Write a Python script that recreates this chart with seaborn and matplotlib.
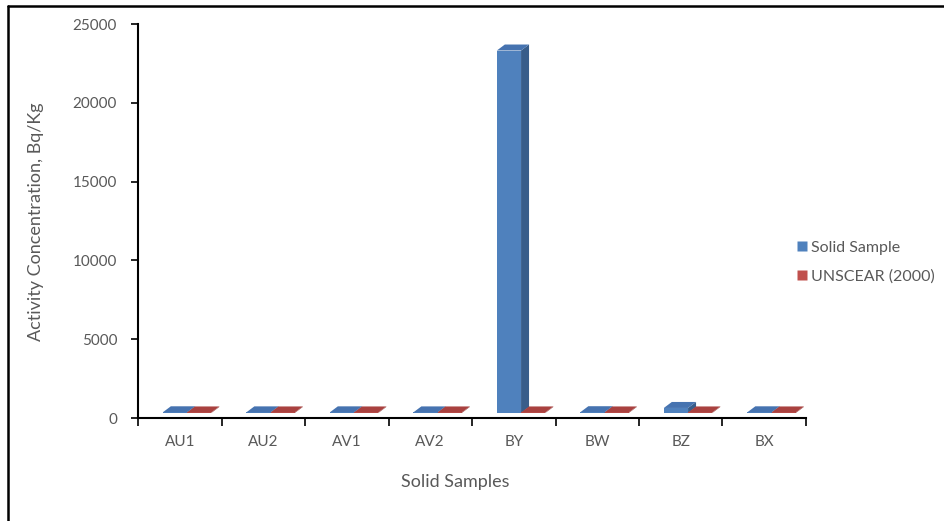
import matplotlib
matplotlib.use("Agg")
import matplotlib.pyplot as plt
import seaborn as sns
import pandas as pd
from matplotlib.patches import Polygon
from matplotlib.lines import Line2D
from matplotlib.transforms import ScaledTranslation

# Activity concentration per solid sample, Bq/Kg
samples = ["AU1", "AU2", "AV1", "AV2", "BY", "BW", "BZ", "BX"]
solid_sample = [45, 40, 42, 38, 23000, 50, 320, 44]
unscear_2000 = [35, 35, 35, 35, 35, 35, 35, 35]
series_names = ["Solid Sample", "UNSCEAR (2000)"]
y_ticks = [0, 5000, 10000, 15000, 20000, 25000]

front_colors = {"Solid Sample": "#4F81BD", "UNSCEAR (2000)": "#C0504D"}
side_colors = {"Solid Sample": "#385D8A", "UNSCEAR (2000)": "#8C3836"}
top_colors = {"Solid Sample": "#4673B0", "UNSCEAR (2000)": "#A9413F"}

df = pd.DataFrame({
    "Sample": samples * 2,
    "Value": solid_sample + unscear_2000,
    "Series": [series_names[0]] * len(samples) + [series_names[1]] * len(samples),
})

sns.set_style("white")
plt.rcParams["font.family"] = ["Lato", "DejaVu Sans"]

W, H = 945, 521
fig = plt.figure(figsize=(W / 100, H / 100), dpi=100)
ax = fig.add_axes([138 / W, (H - 418) / H, (806 - 138) / W, (418 - 24) / H])

sns.barplot(data=df, x="Sample", y="Value", hue="Series", order=samples,
            hue_order=series_names, palette=front_colors, saturation=1,
            width=0.58, dodge=True, legend=False, ax=ax, linewidth=0,
            errorbar=None)

ax.set_xlim(-0.5, len(samples) - 0.5)
ax.set_ylim(0, 25000)

# Fake 3-D look: shift front faces and add side/top faces (offsets in pixels)
shift_x, shift_y = 7.3, 5.0
depth_x, depth_y = 8.0, 6.0
to_disp = ax.transData
to_data = ax.transData.inverted()


def moved(x, y, dxp, dyp):
    px, py = to_disp.transform((x, y))
    return tuple(to_data.transform((px + dxp, py + dyp)))


bars = list(ax.patches)
n = len(samples)
for i, bar in enumerate(bars):
    series = series_names[i // n]
    z = 2 + i // n
    x0, w = bar.get_x(), bar.get_width()
    y0, h = bar.get_y(), bar.get_height()
    bar.set_transform(ax.transData + ScaledTranslation(shift_x / 100, shift_y / 100,
                                                      fig.dpi_scale_trans))
    bar.set_zorder(z)
    bar.set_clip_on(False)
    fr = moved(x0 + w, y0, shift_x, shift_y)
    tl = moved(x0, y0 + h, shift_x, shift_y)
    tr = moved(x0 + w, y0 + h, shift_x, shift_y)
    btl = moved(x0, y0 + h, shift_x + depth_x, shift_y + depth_y)
    btr = moved(x0 + w, y0 + h, shift_x + depth_x, shift_y + depth_y)
    bbr = moved(x0 + w, y0, shift_x + depth_x, shift_y + depth_y)
    ax.add_patch(Polygon([fr, tr, btr, bbr], closed=True, facecolor=side_colors[series],
                         edgecolor="none", zorder=z, clip_on=False))
    ax.add_patch(Polygon([tl, tr, btr, btl], closed=True, facecolor=top_colors[series],
                         edgecolor="none", zorder=z, clip_on=False))

# Axes styling
for side in ["top", "right"]:
    ax.spines[side].set_visible(False)
for side in ["left", "bottom"]:
    ax.spines[side].set_color("black")
    ax.spines[side].set_linewidth(1.5)

ax.set_yticks(y_ticks)
ax.set_yticklabels([str(t) for t in y_ticks])
ax.tick_params(axis="y", direction="out", length=5, width=1.2, color="black",
               labelsize=11, labelcolor="#595959", pad=10, left=True)

boundaries = [i - 0.5 for i in range(len(samples) + 1)]
ax.set_xticks(boundaries)
ax.set_xticklabels([])
ax.set_xticks(range(len(samples)), minor=True)
ax.set_xticklabels(samples, minor=True)
ax.tick_params(axis="x", which="major", direction="out", length=6, width=1.2,
               color="black", bottom=True)
ax.tick_params(axis="x", which="minor", length=0, labelsize=11,
               labelcolor="#595959", pad=12)
ax.set_xlabel("")
ax.set_ylabel("")

fig.text(455 / W, 1 - 482 / H, "Solid Samples", ha="center", va="center",
         fontsize=13, color="#595959")
fig.text(36 / W, 1 - 222 / H, "Activity Concentration, Bq/Kg", ha="center",
         va="center", rotation=90, fontsize=13, color="#595959")

handles = [Line2D([], [], marker="s", linestyle="none", markersize=6.5,
                  markerfacecolor=front_colors[s], markeredgecolor="none")
           for s in series_names]
leg = fig.legend(handles, series_names, loc="center left",
                 bbox_to_anchor=(789 / W, 1 - 262 / H), frameon=False,
                 fontsize=11.5, handlelength=0.8, handletextpad=0.2,
                 labelspacing=0.9, borderaxespad=0)
for t in leg.get_texts():
    t.set_color("#595959")

# Outer frame (top and left edges)
fig.add_artist(Line2D([8 / W, 1], [1 - 6 / H, 1 - 6 / H], transform=fig.transFigure,
                      color="black", linewidth=1.8))
fig.add_artist(Line2D([8 / W, 8 / W], [0, 1 - 6 / H], transform=fig.transFigure,
                      color="black", linewidth=1.8))

fig.savefig("out.png", dpi=100)
